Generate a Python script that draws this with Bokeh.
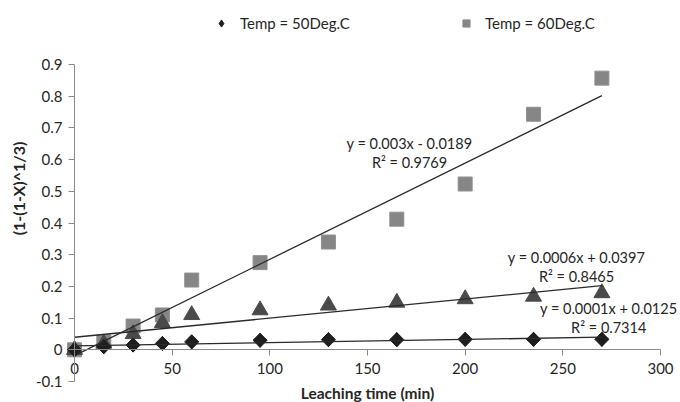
import numpy as np
from bokeh.plotting import figure
from bokeh.models import (Range1d, FixedTicker, PrintfTickFormatter, Legend,
                          LegendItem, Label, ColumnDataSource)
from bokeh.embed import file_html
from bokeh.resources import INLINE

# ---- data ----
time_min = [0, 15, 30, 45, 60, 95, 130, 165, 200, 235, 270]
temp50 = [0.0, 0.010, 0.015, 0.020, 0.025, 0.030, 0.032, 0.032, 0.033, 0.033, 0.033]
temp60 = [0.0, 0.025, 0.075, 0.110, 0.220, 0.275, 0.340, 0.412, 0.523, 0.743, 0.857]
series3 = [0.0, 0.020, 0.050, 0.085, 0.110, 0.125, 0.140, 0.149, 0.160, 0.168, 0.179]

legend_labels = ["Temp = 50Deg.C", "Temp = 60Deg.C"]

# trendline labels as printed on the chart
eq50 = ["y = 0.0001x + 0.0125", "R\u00b2 = 0.7314"]
eq60 = ["y = 0.003x - 0.0189", "R\u00b2 = 0.9769"]
eq3 = ["y = 0.0006x + 0.0397", "R\u00b2 = 0.8465"]

x_ticks = [0, 50, 100, 150, 200, 250, 300]
y_ticks = [-0.1, 0, 0.1, 0.2, 0.3, 0.4, 0.5, 0.6, 0.7, 0.8, 0.9]

# ---- layout (pixels) ----
W, H = 680, 402
AX_L, AX_R, AX_T, AX_B = 74, 660, 64, 381   # pixel extent of axis box
X0, X1, Y0, Y1 = 0.0, 300.0, -0.1, 0.9
sx = (AX_R - AX_L) / (X1 - X0)
sy = (AX_B - AX_T) / (Y1 - Y0)
xr = Range1d(X0 - AX_L / sx, X1 + (W - AX_R) / sx)
yr = Range1d(Y0 - (H - AX_B) / sy, Y1 + AX_T / sy)

FONT = "Lato"
TXT = "#262626"

p = figure(width=W, height=H, output_backend="svg", toolbar_location=None,
           x_range=xr, y_range=yr,
           min_border_left=0, min_border_right=0, min_border_top=0,
           min_border_bottom=0)
p.outline_line_color = None
p.grid.visible = False
p.background_fill_color = "white"

src = ColumnDataSource(dict(t=time_min, a=temp50, b=temp60, c=series3))

C60, C3, C50 = "#868686", "#4a4a4a", "#1e1e1e"
r60 = p.scatter("t", "b", source=src, marker="square", size=14,
                fill_color=C60, line_color="#919191", line_width=1)
r3 = p.scatter("t", "c", source=src, marker="triangle", size=16,
               fill_color=C3, line_color=C3)
# diamond glyph used for the legend symbol (covered by the wider diamonds below)
leg50 = p.scatter("t", "a", source=src, marker="diamond", size=14,
                  fill_color=C50, line_color=C50)
r50 = p.scatter("t", "a", source=src, marker="square", angle=np.pi / 4, size=10,
                fill_color=C50, line_color=C50)

# linear least-squares trendlines over the data range
tx = np.array([min(time_min), max(time_min)], dtype=float)
for ys in (temp60, series3, temp50):
    m, c = np.polyfit(time_min, ys, 1)
    p.line(tx, m * tx + c, line_color="#2a2a2a", line_width=1.3)

# trendline labels
def add_eq(lines, x, y_top, dy=0.06):
    for i, s in enumerate(lines):
        p.add_layout(Label(x=x, y=y_top - i * dy, text=s, text_align="center",
                           text_baseline="middle", text_font=FONT,
                           text_font_size="14.5px", text_color=TXT))

add_eq(eq60, 171.5, 0.652)
add_eq(eq3, 257.0, 0.290)
add_eq(eq50, 273.5, 0.129)

# axes (drawn at the data origin)
xa = p.xaxis[0]
xa.fixed_location = 0
xa.bounds = (X0, X1)
xa.ticker = FixedTicker(ticks=x_ticks)
xa.formatter = PrintfTickFormatter(format="%g")
xa.axis_label = "Leaching time (min)"
ya = p.yaxis[0]
ya.fixed_location = 0
ya.bounds = (Y0, Y1)
ya.ticker = FixedTicker(ticks=y_ticks)
ya.formatter = PrintfTickFormatter(format="%g")
ya.axis_label = None
for ax in (xa, ya):
    ax.axis_line_color = "#8a8a8a"
    ax.major_tick_line_color = "#8a8a8a"
    ax.major_tick_in = 0
    ax.major_tick_out = 6
    ax.minor_tick_line_color = None
    ax.major_label_text_font = FONT
    ax.major_label_text_font_size = "15px"
    ax.major_label_text_color = TXT
    ax.axis_label_text_font = FONT
    ax.axis_label_text_font_size = "15.5px"
    ax.axis_label_text_font_style = "bold"
    ax.axis_label_text_color = TXT
xa.major_label_standoff = 7
xa.axis_label_standoff = 7
ya.major_label_standoff = 6

# y-axis title placed like the reference
p.add_layout(Label(x=18, y=H - 188, x_units="screen", y_units="screen",
                   text="(1-(1-X)^1/3)", angle=np.pi / 2, text_align="center",
                   text_baseline="middle", text_font=FONT,
                   text_font_size="16px", text_font_style="bold",
                   text_color=TXT))

# legends
for r, lab, xloc in ((leg50, legend_labels[0], 212), (r60, legend_labels[1], 457)):
    lg = Legend(items=[LegendItem(label=lab, renderers=[r])], location=(xloc, 370),
                orientation="horizontal", border_line_color=None,
                background_fill_alpha=0, padding=0, margin=0,
                glyph_width=18, glyph_height=18, label_standoff=10,
                label_text_font=FONT, label_text_font_size="15px",
                label_text_color=TXT, label_height=14)
    p.add_layout(lg)

open("out.html", "w").write(file_html(p, INLINE))
